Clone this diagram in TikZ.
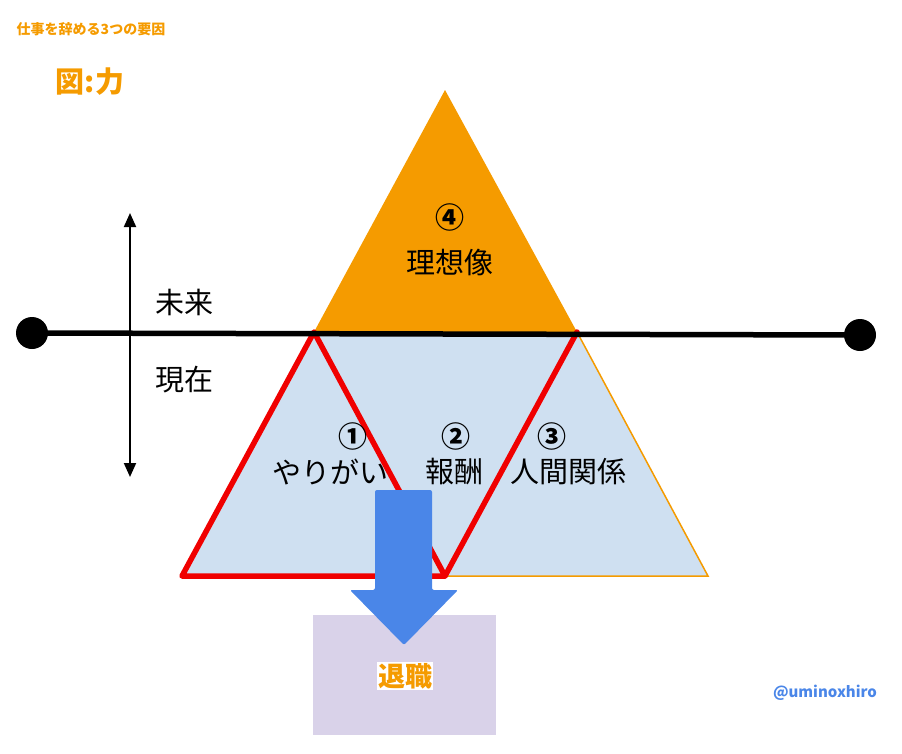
\documentclass[tikz,border=0pt]{standalone}
\usepackage{fontspec}
\setmainfont{Noto Sans CJK JP}
\usetikzlibrary{arrows.meta}
\definecolor{org}{HTML}{F59B00}
\definecolor{lblue}{HTML}{CFE0F1}
\definecolor{rd}{HTML}{F00000}
\definecolor{bl}{HTML}{4A86E8}
\definecolor{pur}{HTML}{D9D2E9}
\tikzset{lbl/.style={font=\fontsize{29}{32}\selectfont,align=center,inner sep=0pt}}
\begin{document}
\begin{tikzpicture}[x=1pt,y=-1pt]
\useasboundingbox (0,0) rectangle (902,753);
\coordinate (A) at (445,90);
\coordinate (L) at (314,332);
\coordinate (R) at (577,332);
\coordinate (BL) at (182,576);
\coordinate (BM) at (445,576);
\coordinate (BR) at (708,576);
\fill[org] (A) -- (L) -- (R) -- cycle;
\fill[lblue] (L) -- (BL) -- (BR) -- (R) -- cycle;
\draw[org,line width=1.5pt] (R) -- (BR) -- (BM);
\draw[rd,line width=5.5pt,line join=round] (L) -- (BL) -- (BM) -- cycle;
\draw[rd,line width=5.5pt,line cap=round] (BM) -- (R);
\node[circle,fill=black,minimum size=32,inner sep=0] (d1) at (32,333) {};
\node[circle,fill=black,minimum size=32,inner sep=0] (d2) at (860,335) {};
\draw[line width=5.5pt] (d1.center) -- (d2.center);
\coordinate (vt) at (130,213);
\coordinate (vb) at (130,477);
\draw[line width=2pt,{Triangle[length=14pt,width=12pt]}-{Triangle[length=14pt,width=12pt]}] (vt) -- (vb);
\node[lbl] (f) at (184,302) {未来};
\node[lbl] (p) at (184,380) {現在};
\node[lbl,font=\fontsize{29}{32}\selectfont\bfseries] (n4) at (450,217) {④};
\node[lbl] (t4) at (450,263) {理想像};
\node[lbl,font=\fontsize{29}{32}\selectfont\bfseries] (n1) at (353,436) {①};
\node[lbl] (t1) at (330,472) {やりがい};
\node[lbl,font=\fontsize{29}{32}\selectfont\bfseries] (n2) at (456,436) {②};
\node[lbl] (t2) at (454,472) {報酬};
\node[lbl,font=\fontsize{29}{32}\selectfont\bfseries] (n3) at (552,436) {③};
\node[lbl] (t3) at (568,472) {人間関係};
\node[fill=pur,minimum width=183,minimum height=120,inner sep=0] (box) at (404.5,675) {};
\fill[bl,rounded corners=2pt] (375,490) -- (432,490) -- (432,590) -- (458,590) -- (404,645) -- (350,590) -- (375,590) -- cycle;
\node[fill=white,text=org,font=\fontsize{27}{30}\selectfont\bfseries,inner sep=1pt] (ret) at (405,676) {退職};
\node[text=org,font=\fontsize{14}{16}\selectfont\bfseries,inner sep=0] (ttl) at (91,29) {仕事を辞める3つの要因};
\node[text=org,font=\fontsize{29}{32}\selectfont\bfseries,inner sep=0] (fig) at (90,82) {図:力};
\node[text=bl,font=\fontsize{15}{17}\selectfont\bfseries,inner sep=0] (at) at (825,693) {@uminoxhiro};
\end{tikzpicture}
\end{document}
